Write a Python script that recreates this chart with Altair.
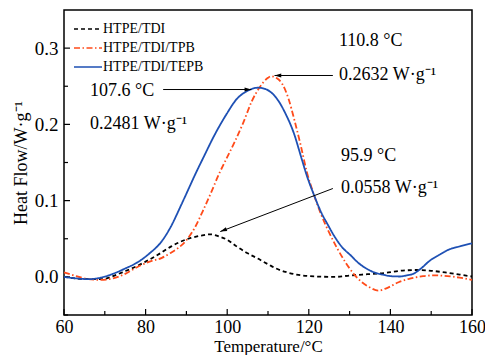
import math
import altair as alt
import pandas as pd

FONT = "Liberation Serif"

series_names = ["HTPE/TDI", "HTPE/TDI/TPB", "HTPE/TDI/TEPB"]
series_colors = ["#000000", "#FF4B1A", "#1E50B4"]
series_dash = [[4, 3], [6, 2.5, 1.5, 2.5], [1, 0]]

tdi_t = [60, 63, 67, 69.5, 72, 74.3, 77, 80, 83, 86.3, 88.5, 91.1, 93.5, 95.9, 98, 99.9,
         102.3, 105, 107.5, 110.2, 112, 114.3, 117, 120, 122.3, 126.3, 130.4, 134.4, 138.4,
         142.4, 146.4, 150, 154.4, 157, 160]
tdi_y = [0.000, -0.002, -0.003, -0.003, 0.001, 0.006, 0.012, 0.020, 0.029, 0.040, 0.046,
         0.051, 0.054, 0.0558, 0.053, 0.049, 0.040, 0.031, 0.024, 0.016, 0.011, 0.0065,
         0.003, 0.001, 0.0004, 0.000, 0.002, 0.0035, 0.005, 0.008, 0.009, 0.008, 0.005,
         0.003, 0.0005]

tpb_t = [60, 63, 66, 69, 72, 75, 78, 81, 84, 86, 88, 90, 92, 94, 96, 98, 100, 102, 104,
         106, 108, 110, 110.8, 112, 113.5, 115, 116.5, 118, 119.5, 121.3, 123, 125, 127,
         129, 131, 133, 135, 137, 139, 142, 145, 148, 151, 154, 157, 160]
tpb_y = [0.006, 0.001, -0.003, -0.004, -0.002, 0.004, 0.013, 0.020, 0.025, 0.031, 0.038,
         0.048, 0.064, 0.086, 0.110, 0.135, 0.157, 0.179, 0.203, 0.230, 0.249, 0.261,
         0.2632, 0.261, 0.253, 0.234, 0.205, 0.173, 0.138, 0.107, 0.082, 0.058, 0.037,
         0.019, 0.004, -0.007, -0.014, -0.018, -0.015, -0.007, -0.002, 0.001, 0.002,
         0.001, -0.001, -0.004]

tepb_t = [60, 63, 66, 69, 72, 75, 78, 81, 84, 86, 88.7, 90.5, 92.3, 94.3, 96.7, 99.9,
          102.3, 105, 107.6, 109, 110.5, 112, 114.3, 116.3, 118.3, 119.5, 121.3, 123,
          124.7, 126.3, 128, 130.4, 132, 134.4, 136, 138.4, 140, 142.4, 144, 145.6, 147.5,
          149.6, 152, 154.4, 157, 160]
tepb_y = [0.000, -0.002, -0.003, -0.001, 0.004, 0.011, 0.019, 0.031, 0.047, 0.064, 0.094,
          0.115, 0.136, 0.158, 0.184, 0.214, 0.233, 0.244, 0.2481, 0.247, 0.243, 0.235,
          0.214, 0.189, 0.154, 0.133, 0.107, 0.085, 0.068, 0.053, 0.040, 0.0275, 0.019,
          0.010, 0.006, 0.0026, 0.001, 0.0005, 0.002, 0.004, 0.011, 0.021, 0.029, 0.036,
          0.040, 0.044]

x_major = [60, 80, 100, 120, 140, 160]
x_minor = [70, 90, 110, 130, 150]
y_major = [0.0, 0.1, 0.2, 0.3]
y_minor = [-0.05, 0.05, 0.15, 0.25]

ann_text = ["107.6 °C", "0.2481 W·g⁻¹", "110.8 °C", "0.2632 W·g⁻¹", "95.9 °C", "0.0558 W·g⁻¹"]
ann_x = [66.4, 66.4, 127.4, 127.4, 127.9, 127.9]
ann_y = [0.2442, 0.200, 0.3093, 0.2641, 0.1585, 0.1172]

arrow_x1 = [84.3, 125.9, 125.9]
arrow_y1 = [0.2457, 0.2641, 0.1159]
arrow_x2 = [105.9, 111.6, 98.3]
arrow_y2 = [0.2457, 0.2641, 0.0594]

W, H = 408, 305
X0, X1, Y0, Y1 = 60, 160, -0.05, 0.35

rows = []
for name, ts, ys in [(series_names[0], tdi_t, tdi_y),
                     (series_names[1], tpb_t, tpb_y),
                     (series_names[2], tepb_t, tepb_y)]:
    for t, v in zip(ts, ys):
        rows.append({"series": name, "T": t, "HF": v})
curves = pd.DataFrame(rows)

xs = alt.Scale(domain=[X0, X1], nice=False, zero=False)
ys_ = alt.Scale(domain=[Y0, Y1], nice=False, zero=False)

xaxis = alt.Axis(title="Temperature/°C", values=x_major, format="d", ticks=False,
                 domain=False, grid=False, labelFont=FONT, labelFontSize=18,
                 labelColor="black", labelPadding=3, labelFlush=False, labelOverlap=False,
                 titleFont=FONT, titleFontSize=17, titleFontWeight="normal",
                 titleColor="black", titlePadding=2)
yaxis = alt.Axis(title="Heat Flow/W·g⁻¹", values=y_major, format=".1f", ticks=False,
                 domain=False, grid=False, labelFont=FONT, labelFontSize=19,
                 labelColor="black", labelPadding=6, labelFlush=False, labelOverlap=False,
                 titleFont=FONT, titleFontSize=18, titleFontWeight="normal",
                 titleColor="black", titlePadding=4)


def X(field):
    return alt.X(field, type="quantitative", scale=xs, axis=xaxis)


def Y(field):
    return alt.Y(field, type="quantitative", scale=ys_, axis=yaxis)


legend = alt.Legend(title=None, orient="none", legendX=16, legendY=11,
                    symbolType="M-2,0L2,0", symbolSize=196, symbolStrokeWidth=1.6,
                    symbolFillColor="transparent",
                    labelFont=FONT, labelFontSize=14, labelColor="black",
                    rowPadding=4, labelOffset=7, padding=0)

lines = alt.Chart(curves).mark_line(strokeWidth=1.8, interpolate="monotone").encode(
    x=X("T"),
    y=Y("HF"),
    color=alt.Color("series:N", scale=alt.Scale(domain=series_names, range=series_colors),
                    legend=legend, sort=series_names),
    strokeDash=alt.StrokeDash("series:N", scale=alt.Scale(domain=series_names, range=series_dash),
                              legend=legend, sort=series_names),
    order=alt.Order("T:Q"),
)

xt = pd.DataFrame({"v": x_major + x_minor, "len": [6] * len(x_major) + [4] * len(x_minor)})
yt = pd.DataFrame({"v": y_major + y_minor, "len": [6] * len(y_major) + [4] * len(y_minor)})

xticks_major = alt.Chart(xt[xt["len"] == 6]).mark_rule(color="black", strokeWidth=1.2).encode(
    x=X("v"), y=alt.value(H), y2=alt.value(H - 6))
xticks_minor = alt.Chart(xt[xt["len"] == 4]).mark_rule(color="black", strokeWidth=1.2).encode(
    x=X("v"), y=alt.value(H), y2=alt.value(H - 4))
yticks_major = alt.Chart(yt[yt["len"] == 6]).mark_rule(color="black", strokeWidth=1.2).encode(
    y=Y("v"), x=alt.value(0), x2=alt.value(6))
yticks_minor = alt.Chart(yt[yt["len"] == 4]).mark_rule(color="black", strokeWidth=1.2).encode(
    y=Y("v"), x=alt.value(0), x2=alt.value(4))

ann = pd.DataFrame({"text": ann_text, "x": ann_x, "y": ann_y})
texts = alt.Chart(ann).mark_text(align="left", baseline="middle", font=FONT, fontSize=18,
                                 color="black").encode(x=X("x"), y=Y("y"), text="text:N")

px_per_x = W / (X1 - X0)
px_per_y = H / (Y1 - Y0)
angles = []
for a, b, c, d in zip(arrow_x1, arrow_y1, arrow_x2, arrow_y2):
    dx = (c - a) * px_per_x
    dy = -(d - b) * px_per_y
    angles.append(math.degrees(math.atan2(dx, -dy)) % 360)

arr = pd.DataFrame({"x1": arrow_x1, "y1": arrow_y1, "x2": arrow_x2, "y2": arrow_y2,
                    "ang": angles})
arrow_lines = alt.Chart(arr).mark_rule(color="black", strokeWidth=1).encode(
    x=X("x1"), y=Y("y1"), x2="x2:Q", y2="y2:Q")
arrow_heads = alt.Chart(arr).mark_point(shape="M0,0L0.32,1.1L-0.32,1.1Z", filled=True,
                                        color="black", size=150, opacity=1).encode(
    x=X("x2"), y=Y("y2"), angle=alt.Angle("ang:Q", scale=None))

chart = alt.layer(
    xticks_major, xticks_minor, yticks_major, yticks_minor,
    lines, arrow_lines, arrow_heads, texts
).properties(
    width=W, height=H,
    autosize=alt.AutoSizeParams(type="none"),
    padding={"left": 56, "top": 2, "right": 13, "bottom": 40},
    background="white",
).configure_view(stroke="black", strokeWidth=1.5)

chart.save("out.html", embed_options={"renderer": "svg", "actions": False})
